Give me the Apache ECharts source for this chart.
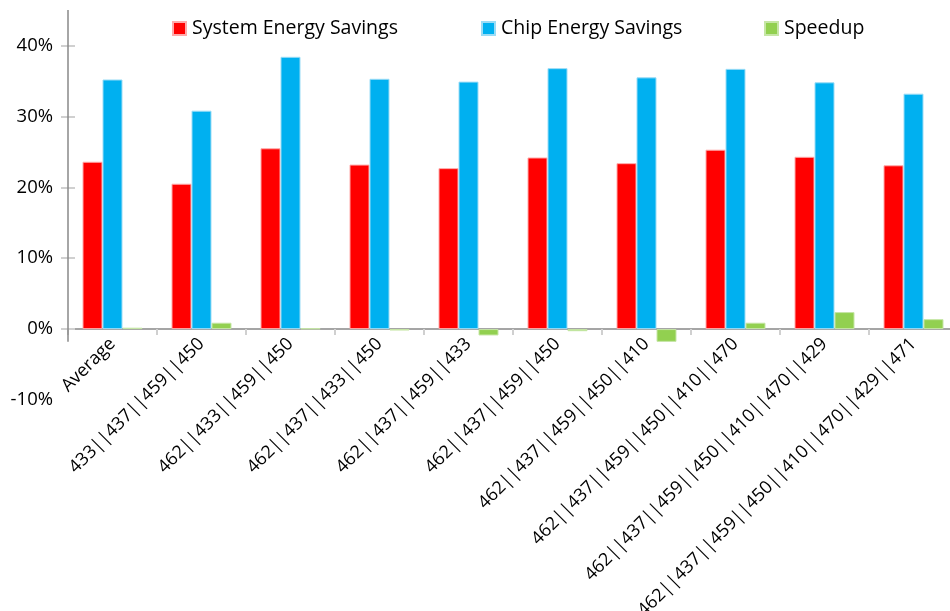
<!DOCTYPE html>
<html>
<head>
<meta charset="utf-8">
<script src="https://cdn.jsdelivr.net/npm/echarts@6/dist/echarts.min.js"></script>
<style>
  html, body { margin: 0; padding: 0; background: #fff; }
  #chart { width: 950px; height: 611px; }
</style>
</head>
<body>
<div id="chart"></div>
<script>
// Mapping configurations and their savings / speedup (percent)
const categories = [
  'Average',
  '433||437||459||450',
  '462||433||459||450',
  '462||437||433||450',
  '462||437||459||433',
  '462||437||459||450',
  '462||437||459||450||410',
  '462||437||459||450||410||470',
  '462||437||459||450||410||470||429',
  '462||437||459||450||410||470||429||471'
];
const systemSavings = [23.6, 20.5, 25.5, 23.2, 22.7, 24.2, 23.4, 25.3, 24.3, 23.1];
const chipSavings   = [35.2, 30.8, 38.4, 35.3, 34.9, 36.8, 35.5, 36.7, 34.8, 33.2];
const speedup       = [0.2, 0.9, 0.1, -0.2, -0.9, -0.3, -1.8, 0.9, 2.4, 1.4];
const yTickValues   = [0, 10, 20, 30, 40];
const yLabelValues  = [-10, 0, 10, 20, 30, 40];

const Y_MIN = -10, Y_MAX = 45;
const GRID_TOP = 10, GRID_BOTTOM = 211, CHART_H = 611;
// Category axis sits on the zero line, labels included
const plotHeight = CHART_H - GRID_TOP - GRID_BOTTOM;
const zeroOffset = plotHeight * (0 - Y_MIN) / (Y_MAX - Y_MIN);

const FONT = '"Open Sans", sans-serif';
const chart = echarts.init(document.getElementById('chart'), null, { renderer: 'canvas' });

function legendAt(name, left) {
  return {
    data: [name], left: left, top: 18.5, padding: 0,
    itemWidth: 13, itemHeight: 13, itemGap: 0,
    icon: 'rect',
    textStyle: { fontFamily: FONT, fontSize: 19.5, color: '#000', padding: [0, 0, 0, 1] }
  };
}

function barSeries(name, data, color, border) {
  return {
    name: name, type: 'bar', data: data,
    barWidth: 20, barGap: '0%',
    itemStyle: { color: color, borderColor: border, borderWidth: 1 },
    emphasis: { disabled: true }
  };
}

const option = {
  animation: false,
  legend: [
    legendAt('System Energy Savings', 172),
    legendAt('Chip Energy Savings', 481),
    legendAt('Speedup', 764)
  ],
  grid: { left: 68, right: -8, top: GRID_TOP, bottom: GRID_BOTTOM, containLabel: false, outerBoundsMode: 'none' },
  xAxis: {
    type: 'category', data: categories,
    offset: -zeroOffset,
    axisLine: { onZero: false, lineStyle: { color: '#888', width: 1.5 } },
    axisTick: { show: true, length: 6, lineStyle: { color: '#d0d0d0', width: 2 } },
    axisLabel: {
      rotate: 45, interval: 0, margin: 12,
      fontFamily: FONT, fontSize: 18, color: '#000'
    },
    splitLine: { show: false }
  },
  yAxis: [
    {
      type: 'value', min: Y_MIN, max: Y_MAX, interval: 10,
      axisLine: { show: false },
      axisTick: { show: true, length: 7, customValues: yTickValues, lineStyle: { color: '#d0d0d0', width: 2 } },
      axisLabel: {
        customValues: yLabelValues, margin: 15,
        fontFamily: FONT, fontSize: 18.5, color: '#000',
        formatter: v => v + '%'
      },
      splitLine: { show: false }
    },
    {
      type: 'value', min: Y_MIN, max: Y_MAX, interval: 10, position: 'left',
      axisLine: { show: false },
      axisTick: { show: true, inside: true, length: 7, customValues: yTickValues, lineStyle: { color: '#d0d0d0', width: 2 } },
      axisLabel: { show: false },
      splitLine: { show: false }
    }
  ],
  series: [
    barSeries('System Energy Savings', systemSavings, '#ff0000', '#ffaaaa'),
    barSeries('Chip Energy Savings', chipSavings, '#00b0f0', '#9adcf6'),
    barSeries('Speedup', speedup, '#92d050', '#c6e6a6')
  ]
};
chart.setOption(option);

// Vertical axis line: runs from the top of the plot to just below the zero line
const xLeft = chart.convertToPixel({ xAxisIndex: 0 }, 0) - chart.getModel().getComponent('xAxis', 0).axis.getBandWidth() / 2;
const yTop = chart.convertToPixel({ yAxisIndex: 0 }, Y_MAX);
const yBottom = chart.convertToPixel({ yAxisIndex: 0 }, -1.8);
chart.setOption({
  graphic: [{
    type: 'line', z: 10,
    shape: { x1: xLeft, y1: yTop, x2: xLeft, y2: yBottom },
    style: { stroke: '#888', lineWidth: 1.5 }
  }]
});
</script>
</body>
</html>
